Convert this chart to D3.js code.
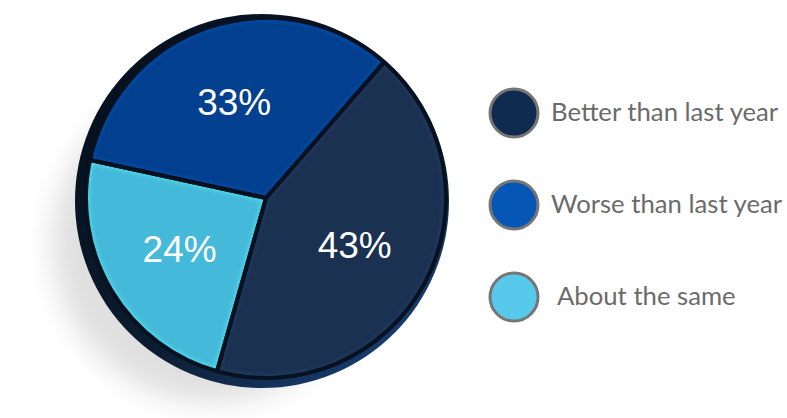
<!DOCTYPE html>
<html>
<head>
<meta charset="utf-8">
<script src="https://cdn.jsdelivr.net/npm/d3@7/dist/d3.min.js"></script>
<style>
  html, body { margin: 0; padding: 0; background: #ffffff; }
  svg { display: block; }
</style>
</head>
<body>
<svg id="chart" width="787" height="418"></svg>
<script>
// Survey answers, in percent
const categories = ["Better than last year", "Worse than last year", "About the same"];
const values = [43, 33, 24];
const sliceColors = ["#1b3152", "#03408f", "#45b9d9"];
const legendColors = ["#0f2b4f", "#0656b6", "#57c9eb"];
// clockwise order of the slices around the disc
const sliceOrder = [0, 2, 1];

const svg = d3.select("#chart");
const defs = svg.append("defs");

// soft drop shadow under the disc
defs.append("filter").attr("id", "shadowBlur")
  .attr("x", "-50%").attr("y", "-50%").attr("width", "200%").attr("height", "200%")
  .append("feGaussianBlur").attr("stdDeviation", 14);

defs.append("filter").attr("id", "bevelBlur")
  .attr("x", "-20%").attr("y", "-20%").attr("width", "140%").attr("height", "140%")
  .append("feGaussianBlur").attr("stdDeviation", 2.2);

// rim of the disc: dark with a blue sheen toward the lower right
const rimGrad = defs.append("linearGradient").attr("id", "rimGrad")
  .attr("x1", "0").attr("y1", "0").attr("x2", "1").attr("y2", "1");
rimGrad.append("stop").attr("offset", "0%").attr("stop-color", "#050d18");
rimGrad.append("stop").attr("offset", "55%").attr("stop-color", "#0c1c30");
rimGrad.append("stop").attr("offset", "85%").attr("stop-color", "#173a6a");
rimGrad.append("stop").attr("offset", "100%").attr("stop-color", "#2a5ea8");

const cx = 262, cy = 201, rimR = 187;
const fx = 266, fy = 198, faceR = 180;

svg.append("ellipse")
  .attr("cx", cx - 50).attr("cy", cy + 42)
  .attr("rx", 160).attr("ry", 160)
  .attr("fill", "#000").attr("opacity", 0.12)
  .attr("filter", "url(#shadowBlur)");

svg.append("circle")
  .attr("cx", cx).attr("cy", cy).attr("r", rimR)
  .attr("fill", "url(#rimGrad)");

// pie face
const rows = values.map((v, i) => ({ i, v }));
const pie = d3.pie().value(d => d.v)
  .sort((a, b) => sliceOrder.indexOf(a.i) - sliceOrder.indexOf(b.i))
  .startAngle(41 * Math.PI / 180)
  .endAngle((41 + 360) * Math.PI / 180);
const arcs = pie(rows);
const arc = d3.arc().innerRadius(0).outerRadius(faceR);
const labelArc = d3.arc().innerRadius(0).outerRadius(faceR * 1.12);

const face = svg.append("g").attr("transform", `translate(${fx},${fy})`);

arcs.forEach((d, k) => {
  const i = d.data.i;
  const clipId = "clip" + k;
  defs.append("clipPath").attr("id", clipId)
    .append("path").attr("d", arc(d)).attr("transform", `translate(${fx},${fy})`);

  face.append("path").attr("d", arc(d)).attr("fill", sliceColors[i]);

  // bevel: lighter rim glow inside each slice
  const g = svg.append("g").attr("clip-path", `url(#${clipId})`)
    .append("g").attr("transform", `translate(${fx},${fy})`);
  g.append("path").attr("d", arc(d))
    .attr("fill", "none")
    .attr("stroke", d3.color(sliceColors[i]).brighter(0.9))
    .attr("stroke-width", 7)
    .attr("opacity", 0.5)
    .attr("filter", "url(#bevelBlur)");
});

// dark separators between slices
const sep = svg.append("g").attr("transform", `translate(${fx},${fy})`);
arcs.forEach(d => {
  sep.append("path").attr("d", arc(d))
    .attr("fill", "none")
    .attr("stroke", "#07111f")
    .attr("stroke-width", 4)
    .attr("stroke-linejoin", "round");
});

// percentage labels
const labels = svg.append("g").attr("transform", `translate(${fx},${fy})`);
arcs.forEach(d => {
  const [x, y] = labelArc.centroid(d);
  labels.append("text")
    .attr("x", x).attr("y", y)
    .attr("text-anchor", "middle")
    .attr("dominant-baseline", "central")
    .attr("font-family", "Liberation Sans, Arial, sans-serif")
    .attr("font-size", 37)
    .attr("fill", "#ffffff")
    .text(d.data.v + "%");
});

// legend
const legendY = d3.scalePoint().domain(categories).range([113, 297]);
const legend = svg.append("g");
categories.forEach((c, i) => {
  const y = legendY(c);
  legend.append("circle")
    .attr("cx", 514).attr("cy", y).attr("r", 24)
    .attr("fill", legendColors[i])
    .attr("stroke", "#767676").attr("stroke-width", 3);
  legend.append("text")
    .attr("x", i === 2 ? 557 : 551).attr("y", y + 8)
    .attr("font-family", "Lato, sans-serif")
    .attr("font-size", 25.7)
    .attr("fill", "#6b6b6b")
    .text(c);
});
</script>
</body>
</html>
